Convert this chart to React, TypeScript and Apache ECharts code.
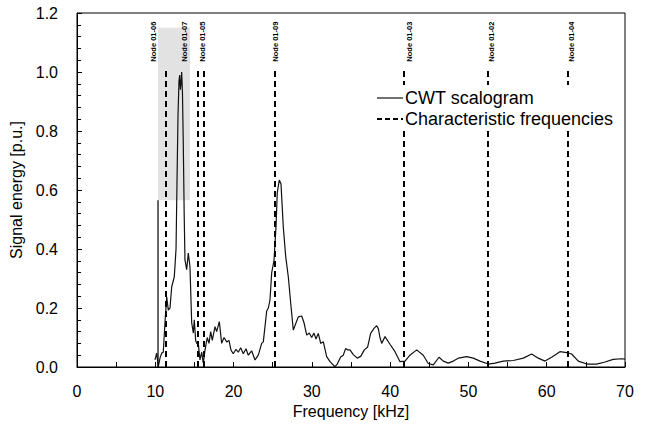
import { useEffect, useRef } from "react";
import * as echarts from "echarts";

// Frequency (kHz) of each CWT sample and its normalised signal energy (p.u.)
const freqKHz = [
  9.96, 10.18, 10.38, 10.6, 10.82, 11.02, 11.24, 11.46, 11.66, 11.88, 12.1, 12.43,
  12.65, 12.77, 12.9, 13.03, 13.12, 13.2, 13.28, 13.37, 13.47, 13.58, 13.69, 13.79,
  14.01, 14.22, 14.43, 14.65, 14.86, 14.98, 15.16, 15.29, 15.49, 15.71, 15.93, 16.13,
  16.35, 16.64, 16.86, 17.08, 17.28, 17.63, 17.84, 18.18, 18.48, 18.78, 19.12, 19.41,
  19.67, 19.96, 20.31, 20.6, 20.91, 21.24, 21.59, 21.88, 22.31, 22.74, 23.16, 23.59,
  23.8, 24.23, 24.44, 24.65, 24.87, 25.16, 25.42, 25.58, 25.84, 26.06, 26.35, 26.66,
  26.99, 27.3, 27.63, 27.97, 28.27, 28.7, 29.0, 29.34, 29.67, 29.98, 30.27, 30.53,
  30.82, 31.13, 31.46, 31.89, 32.32, 32.95, 33.25, 33.68, 34.01, 34.32, 34.58, 34.87,
  35.29, 35.8, 36.24, 36.7, 37.13, 37.51, 37.94, 38.28, 38.49, 38.7, 38.92, 39.34,
  39.98, 40.62, 41.26, 41.9, 42.53, 43.39, 44.23, 44.87, 45.51, 46.24, 46.79, 47.43,
  48.07, 48.7, 49.78, 50.62, 51.48, 52.54, 53.39, 54.45, 55.73, 57.01, 58.08, 58.92,
  59.78, 60.63, 61.69, 62.55, 63.19, 64.03, 65.11, 66.38, 67.44, 68.5, 69.57, 70.0,
];
const energy = [
  0.024, 0.047, 0.0, 0.03, 0.047, 0.05, 0.15, 0.238, 0.193, 0.2, 0.272, 0.306,
  0.4, 0.62, 0.85, 0.97, 0.99, 0.94, 0.96, 1.0, 0.93, 0.75, 0.52, 0.363,
  0.33, 0.386, 0.34, 0.15, 0.115, 0.16, 0.09, 0.08, 0.08, 0.024, 0.05, 0.013,
  0.057, 0.1, 0.08, 0.12, 0.09, 0.137, 0.12, 0.154, 0.08, 0.1, 0.085, 0.09,
  0.057, 0.045, 0.06, 0.05, 0.065, 0.045, 0.062, 0.04, 0.055, 0.024, 0.04, 0.08,
  0.085, 0.19, 0.2, 0.227, 0.32, 0.36, 0.475, 0.59, 0.634, 0.62, 0.475, 0.374,
  0.306, 0.216, 0.125, 0.149, 0.17, 0.173, 0.15, 0.108, 0.115, 0.1, 0.115, 0.095,
  0.114, 0.08, 0.086, 0.035, 0.018, 0.001, 0.01, 0.034, 0.04, 0.063, 0.058, 0.058,
  0.042, 0.03, 0.036, 0.058, 0.068, 0.114, 0.131, 0.14, 0.13, 0.1, 0.08, 0.103,
  0.077, 0.052, 0.018, 0.02, 0.04, 0.058, 0.04, 0.012, 0.007, 0.033, 0.02, 0.013,
  0.02, 0.03, 0.035, 0.03, 0.02, 0.01, 0.013, 0.02, 0.022, 0.03, 0.044, 0.03,
  0.02, 0.033, 0.052, 0.049, 0.044, 0.02, 0.01, 0.01, 0.017, 0.026, 0.028, 0.027,
];

// Characteristic frequencies of the nodes
const nodeNames = [
  "Node 01-06", "Node 01-07", "Node 01-05", "Node 01-09",
  "Node 01-03", "Node 01-02", "Node 01-04",
];
const nodeFreqs = [11.37, 15.45, 16.2, 25.3, 41.8, 52.5, 62.75];
const nodeLineTop = 1.01;
const nodeLabelBase = 1.035;

// Highlighted region around the dominant peak
const boxFreqs = [10.35, 14.43];
const boxEnergy = [0.565, 1.15];

// Axis ranges
const xRange = [0, 70];
const yRange = [0, 1.2];

// Legend entries
const legendNames = ["CWT scalogram", "Characteristic frequencies"];

// Layout / style only (not data)
const labelDx = [-13, -13, -1, 0, 5, 3, 3];
const FONT = '"Liberation Sans", Arial, sans-serif';

export default function App() {
  const ref = useRef<HTMLDivElement>(null);

  useEffect(() => {
    if (!ref.current) return;
    const chart = echarts.init(ref.current, undefined, { renderer: "svg" });
    const cwt = freqKHz.map((f, i) => [f, energy[i]]);

    chart.setOption({
      animation: false,
      backgroundColor: "#fff",
      textStyle: { fontFamily: FONT, color: "#000" },
      grid: {
        left: 77, right: 28, top: 13, bottom: 62,
        show: true, borderColor: "#000", borderWidth: 1,
      },
      xAxis: {
        type: "value", min: xRange[0], max: xRange[1], interval: 10,
        name: "Frequency [kHz]", nameLocation: "middle", nameGap: 35,
        nameTextStyle: { fontSize: 16, color: "#000", fontFamily: FONT },
        axisLine: { show: true, lineStyle: { color: "#000", width: 1 } },
        axisTick: { show: true, inside: true, length: 5, lineStyle: { color: "#000" } },
        minorTick: { show: true, splitNumber: 2, length: 5, lineStyle: { color: "#000" } },
        axisLabel: { fontSize: 16, color: "#000", margin: 16, fontFamily: FONT },
        splitLine: { show: false },
      },
      yAxis: {
        type: "value", min: yRange[0], max: yRange[1], interval: 0.2,
        name: "Signal energy [p.u.]", nameLocation: "middle", nameGap: 42,
        nameTextStyle: { fontSize: 16, color: "#000", fontFamily: FONT },
        axisLine: { show: true, lineStyle: { color: "#000", width: 1 } },
        axisTick: { show: true, inside: true, length: 5, lineStyle: { color: "#000" } },
        minorTick: { show: true, splitNumber: 5, length: 4, lineStyle: { color: "#000" } },
        axisLabel: {
          fontSize: 16, color: "#000", margin: 19, fontFamily: FONT,
          formatter: (v: number) => v.toFixed(1),
        },
        splitLine: { show: false },
      },
      series: [
        {
          name: legendNames[0],
          type: "line",
          data: cwt,
          showSymbol: false,
          symbol: "none",
          lineStyle: { color: "#111", width: 1.2 },
          z: 4,
          markArea: {
            silent: true,
            itemStyle: { color: "#e2e2e2" },
            data: [[
              { xAxis: boxFreqs[0], yAxis: boxEnergy[0] },
              { xAxis: boxFreqs[1], yAxis: boxEnergy[1] },
            ]],
          },
        },
        {
          name: "box edge",
          type: "line",
          data: [[boxFreqs[0], 0], [boxFreqs[0], boxEnergy[0]]],
          symbol: "none",
          lineStyle: { color: "#000", width: 1.2 },
          z: 4,
        },
        {
          name: legendNames[1],
          type: "line",
          data: [],
          markLine: {
            silent: true,
            symbol: ["none", "none"],
            label: { show: false },
            lineStyle: { color: "#000", width: 2, type: [6, 4] },
            data: nodeFreqs.map((f) => [
              { coord: [f, 0] },
              { coord: [f, nodeLineTop] },
            ]),
          },
          z: 5,
        },
      ],
    });

    const graphics: any[] = nodeFreqs.map((f, i) => {
      const p = chart.convertToPixel({ gridIndex: 0 }, [f, nodeLabelBase]) as number[];
      return {
        type: "text",
        x: p[0] + labelDx[i],
        y: p[1],
        rotation: Math.PI / 2,
        z: 10,
        style: {
          text: nodeNames[i],
          font: `bold 7.5px ${FONT}`,
          fill: "#000",
          align: "left",
          verticalAlign: "middle",
        },
      };
    });

    // legend (with white background that hides the dashed lines behind it)
    const lx0 = 377, lx1 = 403, ly0 = 98, ly1 = 119;
    graphics.push(
      { type: "rect", shape: { x: 372, y: 85, width: 250, height: 46 }, style: { fill: "#fff" }, z: 8 },
      { type: "line", shape: { x1: lx0, y1: ly0, x2: lx1, y2: ly0 }, style: { stroke: "#111", lineWidth: 1.2 }, z: 10 },
      { type: "text", x: lx1 + 2, y: ly0, z: 10, style: { text: legendNames[0], font: `18px ${FONT}`, fill: "#000", verticalAlign: "middle" } },
      { type: "line", shape: { x1: lx0, y1: ly1, x2: lx1, y2: ly1 }, style: { stroke: "#000", lineWidth: 2, lineDash: [5, 3] }, z: 10 },
      { type: "text", x: lx1 + 2, y: ly1, z: 10, style: { text: legendNames[1], font: `18px ${FONT}`, fill: "#000", verticalAlign: "middle" } },
    );
    chart.setOption({ graphic: graphics });

    return () => chart.dispose();
  }, []);

  return (
    <div
      ref={ref}
      style={{ position: "fixed", left: 0, top: 0, width: 653, height: 429, background: "#fff" }}
    />
  );
}
